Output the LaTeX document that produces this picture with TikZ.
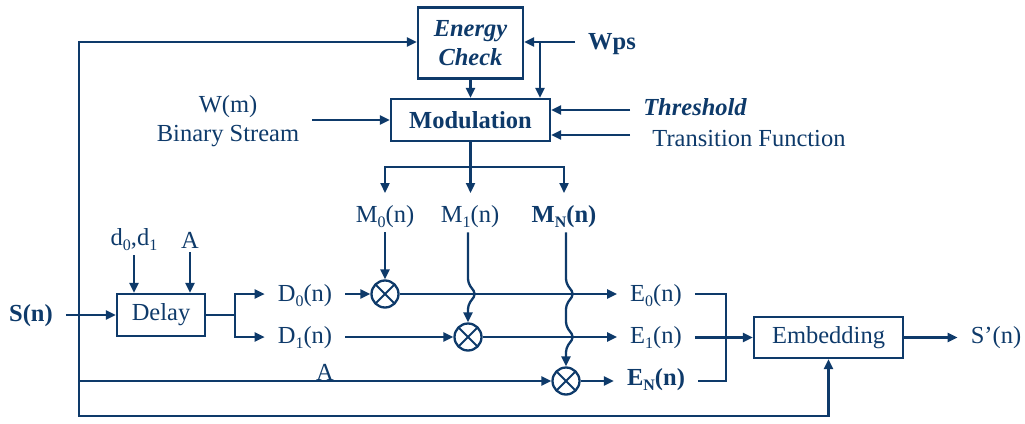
\documentclass[tikz,border=0pt]{standalone}
\usepackage{fontspec}
\setmainfont{Liberation Serif}
\usetikzlibrary{arrows.meta,calc}
\definecolor{navy}{RGB}{14,58,106}
\newcommand{\sbs}[1]{\raisebox{-0.45ex}{\fontsize{16}{16}\selectfont #1}}
\begin{document}
\begin{tikzpicture}[x=1pt,y=-1pt, line width=2.3pt, color=navy,
  font=\fontsize{24.5}{29}\selectfont,
  arr/.style={-{Triangle[length=10pt,width=9pt]}},
  box/.style={draw, inner sep=0pt},
  lbl/.style={inner xsep=12pt, inner ysep=3pt},
  bf/.style={font=\fontsize{24.5}{29}\selectfont\bfseries},
  bfit/.style={font=\fontsize{24.5}{29}\selectfont\bfseries\itshape},
  mult/.style={circle, draw, minimum size=27pt, inner sep=0pt,
    path picture={\draw[line width=2pt]
      (path picture bounding box.north west)--(path picture bounding box.south east)
      (path picture bounding box.north east)--(path picture bounding box.south west);}}]
\useasboundingbox (0,0) rectangle (1025,423);

% boxes
\node[box, bfit, align=center, minimum width=105pt, minimum height=71pt] (ec) at (470.5,43) {Energy\\Check};
\node[box, bf, minimum width=159pt, minimum height=42pt] (mod) at (470.5,120) {Modulation};
\node[box, minimum width=88pt, minimum height=42pt] (delay) at (161,315) {Delay};
\node[box, minimum width=149pt, minimum height=41pt] (emb) at (828.5,337.5) {Embedding};

% multipliers
\node[mult] (x0) at (385,294) {};
\node[mult] (x1) at (468,337) {};
\node[mult] (xN) at (566,381) {};

% labels
\node[lbl, bf] (wps) at (612,44) {Wps};
\node[lbl, bfit] (th) at (695,107) {Threshold};
\node[lbl] (tf) at (749,139) {Transition Function};
\node[lbl, align=center] (wm) at (228,121) {W(m)\\Binary Stream};
\node[lbl, bf] (sn) at (31,316) {S(n)};
\node[lbl] (d01) at (134,240) {d\sbs{0},d\sbs{1}};
\node[lbl] (aD) at (190,240) {A};
\node[lbl] (D0) at (305,296) {D\sbs{0}(n)};
\node[lbl] (D1) at (305,338) {D\sbs{1}(n)};
\node[lbl] (M0) at (385,217) {M\sbs{0}(n)};
\node[lbl] (M1) at (470,217) {M\sbs{1}(n)};
\node[lbl, bf] (MN) at (564,217) {M\sbs{N}(n)};
\node[lbl] (E0) at (656,296) {E\sbs{0}(n)};
\node[lbl] (E1) at (656,338) {E\sbs{1}(n)};
\node[lbl, bf] (EN) at (656,380) {E\sbs{N}(n)};
\node[lbl] (sp) at (996,338) {S’(n)};
\node[lbl] (aA) at (325,372) {A};

% coordinates
\coordinate (jS) at (79,315);
\coordinate (bot) at (828.5,416);
\coordinate (wj) at (540,42);
\coordinate (thS) at (630,110);
\coordinate (tfS) at (630,135);
\coordinate (mj) at (470.5,167);
\coordinate (m0t) at (385,193);
\coordinate (m1t) at (470.5,193);
\coordinate (mNt) at (564,193);
\coordinate (dj) at (235,315);
\coordinate (jE) at (726,338);

% top part
\draw[arr] (jS) |- (ec.west |- wj);
\draw[arr] (wps.west |- wj) -- (ec.east |- wj);
\draw[arr] (wj) -- (wj |- mod.north);
\draw[arr] (ec.south) -- (mod.north);
\draw[arr] (wm.east |- mod.west) -- (mod.west);
\draw[arr] (thS) -- (thS -| mod.east);
\draw[arr] (tfS) -- (tfS -| mod.east);
\draw (mod.south) -- (mj);
\draw[arr] (mj) -| (m0t);
\draw[arr] (mj) -- (m1t);
\draw[arr] (mj) -| (mNt);

% delay
\draw[arr] (sn.east |- delay.west) -- (delay.west);
\draw[arr] (d01.south) -- (d01.south |- delay.north);
\draw[arr] (aD.south) -- (aD.south |- delay.north);
\draw (delay.east) -- (dj);
\draw[arr] (dj) |- (D0.west |- x0);
\draw[arr] (dj) |- (D1.west |- x1);

% multiplier inputs
\draw[arr] (M0.south) -- (x0.north);
\draw[arr, rounded corners=4pt] (x1 |- M1.south) -- (468,283) -- (476,294) -- (468,305) -- (x1.north);
\draw[arr, rounded corners=4pt] (xN |- MN.south) -- (566,283) -- (574,294) -- (566,305)
   -- (566,326) -- (574,337) -- (566,348) -- (xN.north);
\draw[arr] (D0.east |- x0) -- (x0.west);
\draw[arr] (D1.east |- x1) -- (x1.west);
\draw[arr] (jS) |- (xN.west);

% multiplier outputs
\draw[arr] (x0.east) -- (E0.west |- x0);
\draw[arr] (x1.east) -- (E1.west |- x1);
\draw[arr] (xN.east) -- (EN.west |- xN);

% merge into embedding
\draw (E0.east |- x0) -| (jE);
\draw (EN.east |- xN) -| (jE);
\draw[arr] (E1.east |- emb.west) -- (emb.west);
\draw[arr] (emb.east) -- (sp.west |- emb.east);
\draw[arr] (jS) |- (bot) -- (emb.south);
\end{tikzpicture}
\end{document}
